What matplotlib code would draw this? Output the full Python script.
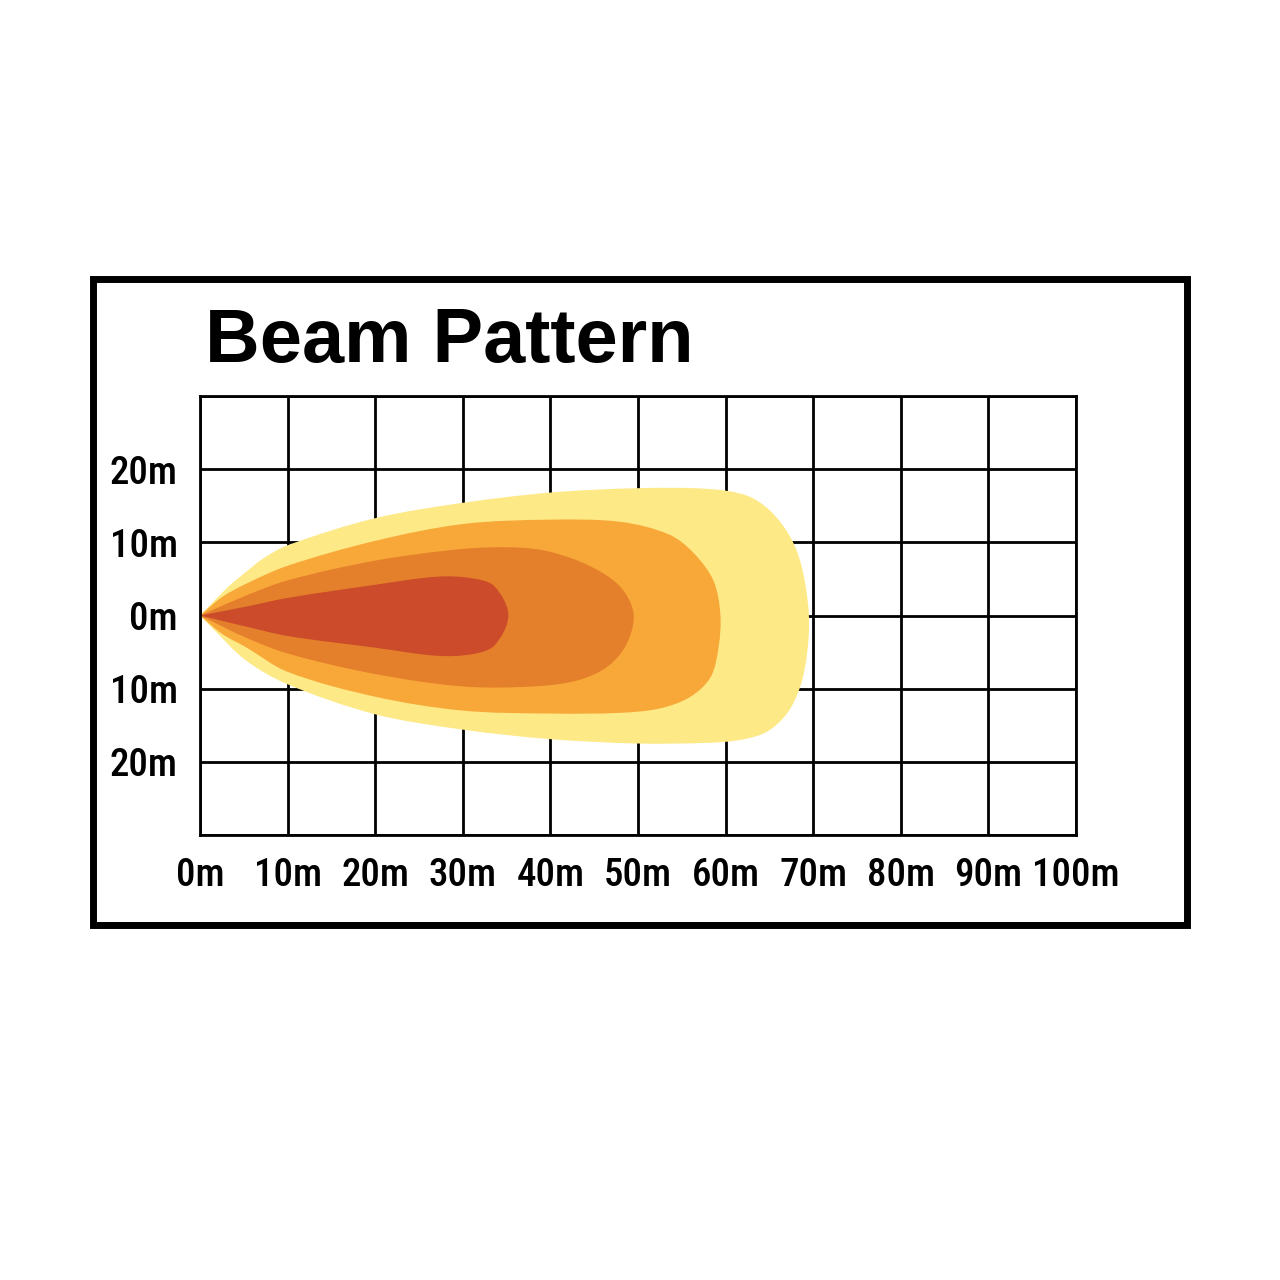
import matplotlib
matplotlib.use("Agg")
import matplotlib.pyplot as plt
from matplotlib.path import Path
from matplotlib.patches import PathPatch, Rectangle
import numpy as np

title = "Beam Pattern"
x_ticks = [0, 10, 20, 30, 40, 50, 60, 70, 80, 90, 100]
x_labels = ["0m", "10m", "20m", "30m", "40m", "50m", "60m", "70m", "80m", "90m", "100m"]
y_ticks = [-30, -20, -10, 0, 10, 20, 30]
y_labels = ["", "20m", "10m", "0m", "10m", "20m", ""]

# beam zone outlines (metres): origin -> top edge -> tip -> bottom edge -> origin
yellow_x = [0, 1.3, 3.2, 5.2, 7.1, 10, 20, 30, 40, 50, 58, 62.4, 65.1, 67.4, 68.7, 69.5, 69.3, 68.5, 67.0, 64.7, 61.7, 58, 50, 40, 30, 20, 10, 5.2, 1.3, 0]
yellow_y = [0, 1.6, 3.9, 5.9, 7.7, 9.6, 13.3, 15.4, 16.8, 17.4, 17.3, 16.4, 14.3, 10.7, 6.6, 0.2, -5.2, -9.8, -13.4, -15.9, -17.0, -17.4, -17.5, -16.9, -15.6, -13.5, -9.4, -6.1, -1.6, 0]

lorange_x = [0, 2.5, 5.2, 10, 20, 30, 40, 48, 53.5, 56.3, 58.6, 59.4, 59.2, 58.3, 56.0, 52.5, 48, 40, 30, 20, 10, 5.2, 2.5, 0]
lorange_y = [0, 2.5, 4.3, 6.8, 10.2, 12.5, 13.1, 12.8, 11.1, 8.6, 4.8, 0.2, -4.3, -8.4, -11.1, -12.7, -13.3, -13.4, -13.0, -11.1, -7.7, -4.3, -2.5, 0]

dorange_x = [0, 5.2, 10, 20, 30, 36, 40, 44.6, 48.0, 49.5, 48.7, 46.5, 43.0, 38, 30, 20, 10, 5.2, 0]
dorange_y = [0, 2.7, 4.8, 7.5, 9.1, 9.3, 8.7, 6.7, 3.9, 0.2, -3.9, -7.0, -8.9, -9.7, -9.7, -8.0, -5.2, -3.0, 0]

red_x = [0, 5.2, 10, 20, 27, 31, 33.6, 35.2, 33.6, 31, 27, 20, 10, 5.2, 0]
red_y = [0, 1.2, 2.4, 4.2, 5.3, 5.1, 4.0, 0, -4.1, -5.3, -5.5, -4.4, -2.8, -1.5, 0]

zones = [
    (yellow_x, yellow_y, "#FDE986"),
    (lorange_x, lorange_y, "#F8A839"),
    (dorange_x, dorange_y, "#E4802B"),
    (red_x, red_y, "#CB4B2A"),
]

SX, SY = 8.76, 7.3  # approx pixels per metre, to smooth in an isotropic space


def smooth_path(xs, ys):
    pts = np.column_stack([np.asarray(xs, float) * SX, np.asarray(ys, float) * SY])
    n = len(pts)
    d = np.linalg.norm(np.diff(pts, axis=0), axis=1)
    tang = np.zeros_like(pts)
    for i in range(n):
        if i == 0:
            tang[i] = (pts[1] - pts[0]) / d[0]
        elif i == n - 1:
            tang[i] = (pts[-1] - pts[-2]) / d[-1]
        else:
            tang[i] = (pts[i + 1] - pts[i - 1]) / (d[i - 1] + d[i])
    verts = [pts[0]]
    codes = [Path.MOVETO]
    for i in range(n - 1):
        c1 = pts[i] + tang[i] * d[i] / 3.0
        c2 = pts[i + 1] - tang[i + 1] * d[i] / 3.0
        verts += [c1, c2, pts[i + 1]]
        codes += [Path.CURVE4] * 3
    verts = np.array(verts) / np.array([SX, SY])
    return Path(verts, codes)


fig = plt.figure(figsize=(12.8, 12.8), dpi=100)
ax = fig.add_axes([200 / 1280, 1 - 835 / 1280, 876 / 1280, 439 / 1280])
ax.set_xlim(0, 100)
ax.set_ylim(-30, 30)

for xs, ys, col in zones:
    ax.add_patch(PathPatch(smooth_path(xs, ys), facecolor=col, edgecolor="none", zorder=2))

ax.set_xticks(x_ticks)
ax.set_xticklabels(x_labels)
ax.set_yticks(y_ticks)
ax.set_yticklabels(y_labels)
ax.set_axisbelow(True)
ax.grid(True, color="black", linewidth=2.0, zorder=1)
for s in ax.spines.values():
    s.set_linewidth(2.0)
    s.set_color("black")
    s.set_zorder(3)

fam = ["Roboto Condensed", "Archivo Narrow", "Asap Condensed", "DejaVu Sans"]
ax.tick_params(axis="both", length=0)
ax.tick_params(axis="x", pad=16)
ax.tick_params(axis="y", pad=16)
for lab in ax.get_xticklabels() + ax.get_yticklabels():
    lab.set_fontfamily(fam)
    lab.set_fontsize(28)
    lab.set_fontweight("medium")

fig.text(205 / 1280, 1 - 362 / 1280, title, fontsize=54.5, fontweight="bold",
         family=["Liberation Sans", "DejaVu Sans"], ha="left", va="baseline")

fig.patches.append(Rectangle((93 / 1280, 1 - 925 / 1280), (1187 - 93) / 1280, (925 - 279) / 1280,
                             transform=fig.transFigure, fill=False, edgecolor="black", linewidth=5))

fig.savefig("out.png", dpi=100, facecolor="white")
